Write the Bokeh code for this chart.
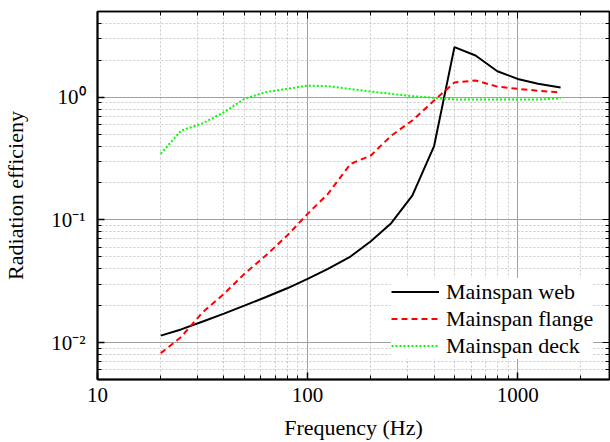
from bokeh.plotting import figure
from bokeh.models import FixedTicker, CustomJSTickFormatter, LogAxis, Legend, LegendItem
from bokeh.embed import file_html
from bokeh.resources import INLINE

# ---- data (1/3-octave band centre frequencies, Hz) ----
freq = [20, 25, 31.5, 40, 50, 63, 80, 100, 125, 160, 200, 250, 315, 400, 500, 630, 800, 1000, 1250, 1600]
web = [0.0114, 0.0128, 0.0148, 0.0172, 0.0200, 0.0234, 0.0277, 0.0331, 0.0399, 0.0503,
       0.067, 0.094, 0.158, 0.40, 2.56, 2.19, 1.63, 1.41, 1.29, 1.20]
flange = [0.0082, 0.0111, 0.0175, 0.025, 0.0363, 0.051, 0.0746, 0.112, 0.163, 0.286,
          0.335, 0.486, 0.646, 0.94, 1.32, 1.37, 1.22, 1.17, 1.13, 1.09]
deck = [0.346, 0.535, 0.61, 0.755, 0.97, 1.10, 1.17, 1.245, 1.23, 1.17,
        1.11, 1.066, 1.02, 0.99, 0.96, 0.957, 0.957, 0.957, 0.957, 0.98]
series_names = ["Mainspan web", "Mainspan flange", "Mainspan deck"]

x_ticks = [10, 100, 1000]
x_tick_labels = ["10", "100", "1000"]
y_ticks = [0.01, 0.1, 1]
y_tick_labels = ["10\u207b\u00b2", "10\u207b\u00b9", "10\u2070"]
minor = [m * 10.0 ** k for k in range(-3, 4) for m in range(2, 10)]

FONT = "Liberation Serif"

p = figure(width=610, height=442, x_axis_type="log", y_axis_type="log",
           x_range=(10, 2735), y_range=(0.005, 5),
           output_backend="svg", toolbar_location=None,
           min_border_left=96, min_border_right=1, min_border_top=11, min_border_bottom=63)

xt = FixedTicker(ticks=x_ticks, minor_ticks=minor)
yt = FixedTicker(ticks=y_ticks, minor_ticks=minor)

fmt_code = """
let best = -1, bd = 1e9;
for (let i = 0; i < tks.length; i++) {
  const d = Math.abs(Math.log10(tick) - Math.log10(tks[i]));
  if (d < bd) { bd = d; best = i; }
}
return bd < 1e-6 ? lbls[best] : "";
"""
p.xaxis.ticker = xt
p.yaxis.ticker = yt
p.xaxis.formatter = CustomJSTickFormatter(args=dict(tks=x_ticks, lbls=x_tick_labels), code=fmt_code)
p.yaxis.formatter = CustomJSTickFormatter(args=dict(tks=y_ticks, lbls=y_tick_labels), code=fmt_code)

for ax in (p.xaxis[0], p.yaxis[0]):
    ax.axis_line_width = 2
    ax.axis_line_color = "black"
    ax.major_tick_in = 7
    ax.major_tick_out = 0
    ax.minor_tick_in = 4
    ax.minor_tick_out = 0
    ax.major_tick_line_width = 1.5
    ax.major_tick_line_color = "black"
    ax.minor_tick_line_color = "black"
    ax.major_label_text_font = FONT
    ax.major_label_text_font_size = "21px"
    ax.major_label_text_color = "black"
    ax.axis_label_text_font = FONT
    ax.axis_label_text_font_size = "22px"
    ax.axis_label_text_font_style = "normal"
    ax.axis_label_text_color = "black"

p.xaxis.axis_label = "Frequency (Hz)"
p.yaxis.axis_label = "Radiation efficieny"
p.xaxis.major_label_standoff = 8
p.xaxis.axis_label_standoff = 10
p.yaxis.major_label_standoff = 12
p.yaxis.major_label_orientation = "horizontal"
p.yaxis.axis_label_standoff = 20

# mirror axes (ticks only)
for loc, tk in (("above", xt), ("right", yt)):
    ax = LogAxis(ticker=tk, formatter=CustomJSTickFormatter(code="return '';"),
                 major_label_text_font_size="0px", major_label_standoff=0,
                 major_tick_in=7, major_tick_out=0, minor_tick_in=4, minor_tick_out=0,
                 axis_line_width=1.5, axis_line_color="black",
                 major_tick_line_color="black", minor_tick_line_color="black")
    p.add_layout(ax, loc)

for g in (p.xgrid[0], p.ygrid[0]):
    g.grid_line_color = "#a0a0a0"
    g.grid_line_width = 1
    g.minor_grid_line_color = "#c8c8c8"
    g.minor_grid_line_dash = "2 2"
    g.minor_grid_line_width = 1
p.xgrid[0].ticker = xt
p.ygrid[0].ticker = yt

p.outline_line_color = "black"
p.outline_line_width = 1.5
p.background_fill_color = "white"
p.border_fill_color = "white"

r1 = p.line(freq, web, line_color="black", line_width=2)
r2 = p.line(freq, flange, line_color="#ff0000", line_width=2, line_dash="6 4")
r3 = p.line(freq, deck, line_color="#00ff00", line_width=2, line_dash="2 2")

legend = Legend(items=[LegendItem(label=series_names[0], renderers=[r1]),
                       LegendItem(label=series_names[1], renderers=[r2]),
                       LegendItem(label=series_names[2], renderers=[r3])],
                location=(294, 20), glyph_width=48, glyph_height=27, label_height=27,
                label_standoff=7, padding=8, spacing=0, margin=0,
                label_text_font=FONT, label_text_font_size="22px", label_text_color="black",
                background_fill_color="white", background_fill_alpha=1.0,
                border_line_color=None)
p.add_layout(legend, "center")

open("out.html", "w").write(file_html(p, INLINE))
